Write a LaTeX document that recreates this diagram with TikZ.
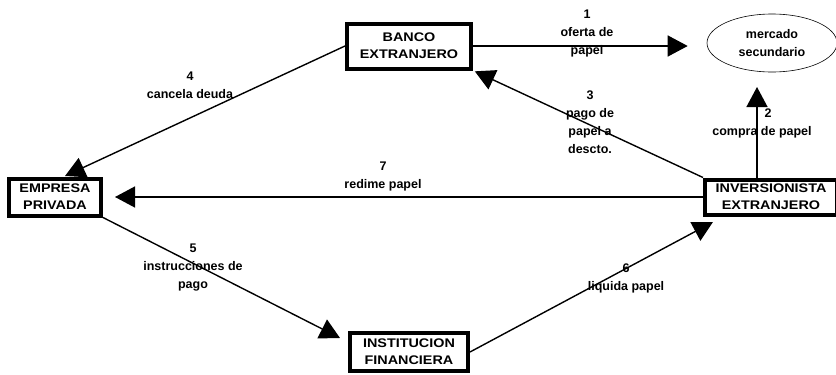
\documentclass[tikz,border=0pt]{standalone}
\usepackage{fontspec}
\setmainfont{Liberation Sans}
\newfontfamily\cajafont[FakeStretch=1.15]{Liberation Sans}
\usetikzlibrary{arrows.meta,shapes}
\tikzset{
	caja/.style={draw, line width=4pt, fill=white, align=center, inner sep=0pt, font=\cajafont\bfseries\fontsize{12.5}{17}\selectfont},
	flujo/.style={line width=1.4pt, -{Triangle[length=20pt,width=21pt]}},
	etiq/.style={align=center, inner sep=0pt, font=\bfseries\fontsize{12.5}{18}\selectfont}
}

\begin{document}
\begin{tikzpicture}[x=1pt, y=-1pt]

			\useasboundingbox (0,0) rectangle (836,375);

			% cajas
			\node[caja, minimum width=124pt, minimum height=45pt] (banco) at (409,46) {BANCO\\EXTRANJERO};
			\node[caja, minimum width=92pt, minimum height=37pt] (empresa) at (55,197) {EMPRESA\\PRIVADA};
			\node[caja, minimum width=132pt, minimum height=35pt] (inversor) at (771,197) {INVERSIONISTA\\EXTRANJERO};
			\node[caja, minimum width=118pt, minimum height=38pt] (institucion) at (409,352) {INSTITUCION\\FINANCIERA};
			\node[ellipse, draw, line width=0.6pt, minimum width=130pt, minimum height=58pt, align=center, inner sep=0pt,
				font=\bfseries\fontsize{12.5}{18}\selectfont] (mercado) at (772,43) {mercado\\secundario};

			\coordinate (c2) at (757,87);
			\coordinate (c4) at (65,176);
			\coordinate (c5) at (340,338);
			\coordinate (c6) at (713,222);

			% flujos
			\draw[flujo, shorten >=19pt] (banco.east) -- (banco.east -| mercado.west);
			\draw[flujo] (c2 |- inversor.north) -- (c2);
			\draw[flujo, shorten >=2pt] (inversor.north west) -- (banco.south east);
			\draw[flujo] (banco.west) -- (c4);
			\draw[flujo] (empresa.south east) -- (c5);
			\draw[flujo] (institucion.east) -- (c6);
			\draw[flujo, shorten >=12pt] (inversor.west) -- (empresa.east);

			% textos
			\node[etiq] (t1) at (587,33) {1\\oferta de\\papel};
			\node[etiq] (t2) at (762,123) {\hspace*{12pt}2\\compra de papel};
			\node[etiq] (t3) at (590,122) {3\\pago de\\papel a\\descto.};
			\node[etiq] (t4) at (190,85) {4\\cancela deuda};
			\node[etiq] (t5) at (193,268) {5\\instrucciones de\\pago};
			\node[etiq] (t6) at (626,278) {6\\liquida papel};
			\node[etiq] (t7) at (383,176) {7\\redime papel};

\end{tikzpicture}
\end{document}
